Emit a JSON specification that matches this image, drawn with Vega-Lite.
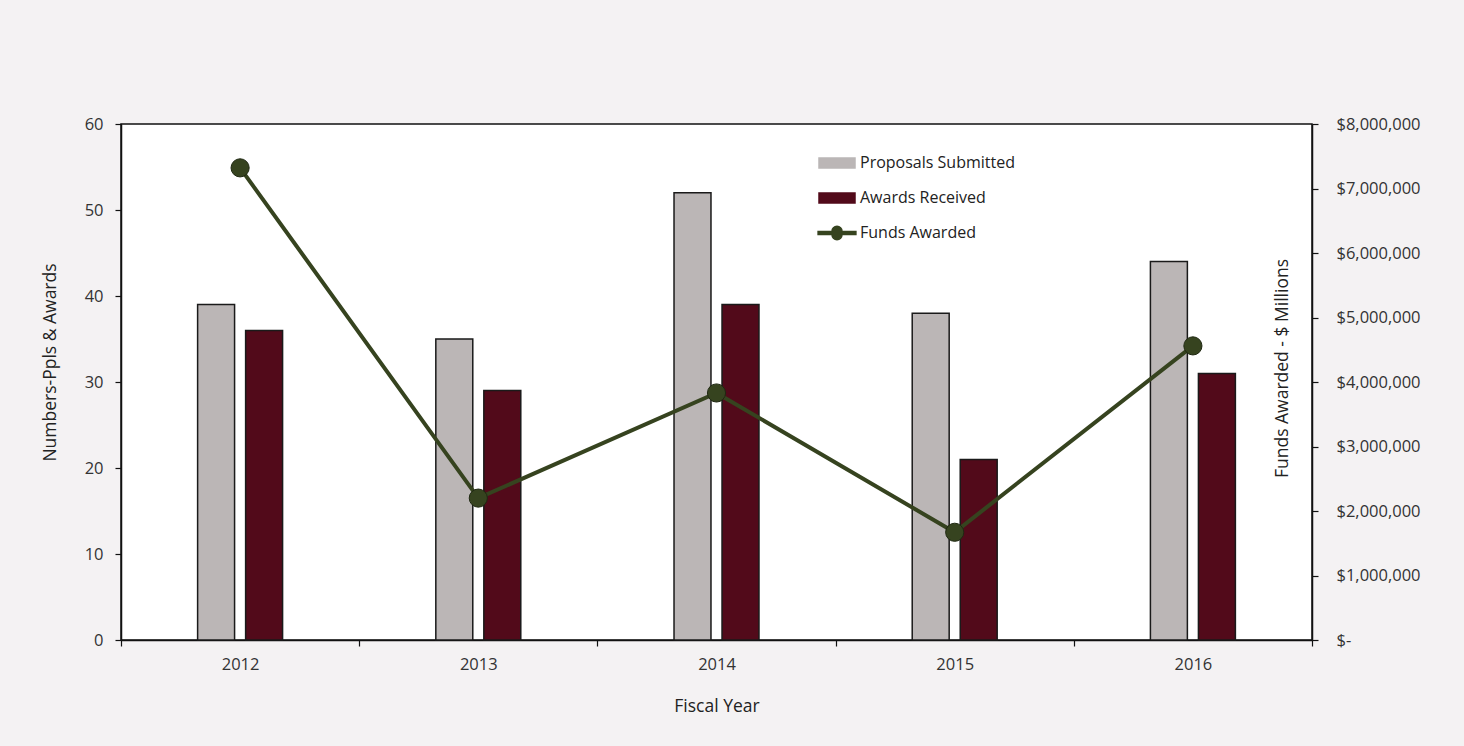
{
  "$schema": "https://vega.github.io/schema/vega-lite/v6.json",
  "width": 1191,
  "height": 516,
  "autosize": "none",
  "padding": {"left": 121, "top": 124, "right": 152, "bottom": 106},
  "background": "#f4f2f3",
  "config": {
    "font": "Open Sans",
    "view": {"fill": "white", "stroke": "#111111", "strokeWidth": 1.5},
    "axis": {"grid": false, "labelFont": "Open Sans", "titleFont": "Open Sans", "labelFontSize": 16.5, "titleFontSize": 17.5, "titleFontWeight": "normal", "labelColor": "#333333", "titleColor": "#222222", "domainColor": "#111111", "domainWidth": 1.5, "tickColor": "#111111", "tickWidth": 1.2, "tickSize": 6}
  },
  "datasets": {
    "bars": [
      {"year": "2012", "series": "Proposals Submitted", "value": 39},
      {"year": "2012", "series": "Awards Received", "value": 36},
      {"year": "2013", "series": "Proposals Submitted", "value": 35},
      {"year": "2013", "series": "Awards Received", "value": 29},
      {"year": "2014", "series": "Proposals Submitted", "value": 52},
      {"year": "2014", "series": "Awards Received", "value": 39},
      {"year": "2015", "series": "Proposals Submitted", "value": 38},
      {"year": "2015", "series": "Awards Received", "value": 21},
      {"year": "2016", "series": "Proposals Submitted", "value": 44},
      {"year": "2016", "series": "Awards Received", "value": 31}
    ],
    "funds": [
      {"year": "2012", "series": "Funds Awarded", "funds": 7320000},
      {"year": "2013", "series": "Funds Awarded", "funds": 2200000},
      {"year": "2014", "series": "Funds Awarded", "funds": 3830000},
      {"year": "2015", "series": "Funds Awarded", "funds": 1670000},
      {"year": "2016", "series": "Funds Awarded", "funds": 4560000}
    ]
  },
  "layer": [
    {
      "data": {"name": "bars"},
      "mark": {"type": "bar", "stroke": "#1a1a1a", "strokeWidth": 1.5},
      "encoding": {
        "x": {
          "field": "year", "type": "nominal",
          "scale": {"paddingInner": 0, "paddingOuter": 0},
          "axis": {"title": "Fiscal Year", "labelAngle": 0, "tickBand": "extent", "labelPadding": 10, "titleY": 66, "titleBaseline": "middle"}
        },
        "xOffset": {
          "field": "series", "type": "nominal",
          "scale": {"domain": ["_padA", "Proposals Submitted", "Awards Received", "_padB"], "paddingInner": 0.23, "paddingOuter": 0.596}
        },
        "y": {
          "field": "value", "type": "quantitative",
          "scale": {"domain": [0, 60]},
          "axis": {"title": "Numbers-Ppls & Awards", "values": [0, 10, 20, 30, 40, 50, 60], "labelPadding": 12, "titleAngle": -90, "titleX": -71, "titleY": 238, "titleBaseline": "middle", "titleAlign": "center"}
        },
        "color": {
          "field": "series", "type": "nominal",
          "scale": {"domain": ["Proposals Submitted", "Awards Received", "Funds Awarded"], "range": ["#bbb6b6", "#520a1a", "#36431f"]},
          "legend": {
            "title": null, "orient": "none", "legendX": 697, "legendY": 20,
            "labelFont": "Open Sans", "labelFontSize": 16, "labelColor": "#222222",
            "symbolSize": 1296, "rowPadding": 7, "labelOffset": 4, "padding": 0,
            "symbolStrokeColor": "#222222", "symbolStrokeWidth": 1.5,
            "encode": {
              "symbols": {
                "update": {
                  "shape": {"signal": "datum.value == 'Funds Awarded' ? 'M-1.05,-0.09H-0.28A0.28,0.28 0 0,1 0.28,-0.09H1.05V0.09H0.28A0.28,0.28 0 0,1 -0.28,0.09H-1.05Z' : 'M-1,-0.28H1V0.28H-1Z'"},
                  "stroke": {"signal": "datum.value == 'Funds Awarded' ? '#36431f' : '#222222'"},
                  "strokeWidth": {"value": 1.5}
                }
              }
            }
          }
        }
      }
    },
    {
      "data": {"name": "funds"},
      "mark": {"type": "line", "strokeWidth": 4},
      "encoding": {
        "x": {"field": "year", "type": "nominal"},
        "y": {
          "field": "funds", "type": "quantitative",
          "scale": {"domain": [0, 8000000]},
          "axis": {
            "orient": "right", "title": "Funds Awarded - $ Millions",
            "values": [0, 1000000, 2000000, 3000000, 4000000, 5000000, 6000000, 7000000, 8000000],
            "labelExpr": "datum.value == 0 ? '$-' : format(datum.value, '$,.0f')",
            "labelPadding": 18, "titleAngle": -90, "titleX": -30, "titleY": 244, "titleBaseline": "middle", "titleAlign": "center"
          }
        },
        "color": {"field": "series", "type": "nominal", "scale": {"domain": ["Proposals Submitted", "Awards Received", "Funds Awarded"], "range": ["#bbb6b6", "#520a1a", "#36431f"]}}
      }
    },
    {
      "data": {"name": "funds"},
      "mark": {"type": "point", "filled": true, "size": 330, "opacity": 1, "stroke": "#1f2812", "strokeWidth": 1},
      "encoding": {
        "x": {"field": "year", "type": "nominal"},
        "y": {"field": "funds", "type": "quantitative", "scale": {"domain": [0, 8000000]}, "axis": null},
        "color": {"field": "series", "type": "nominal", "scale": {"domain": ["Proposals Submitted", "Awards Received", "Funds Awarded"], "range": ["#bbb6b6", "#520a1a", "#3b4a28"]}}
      }
    }
  ],
  "resolve": {"scale": {"y": "independent"}}
}
